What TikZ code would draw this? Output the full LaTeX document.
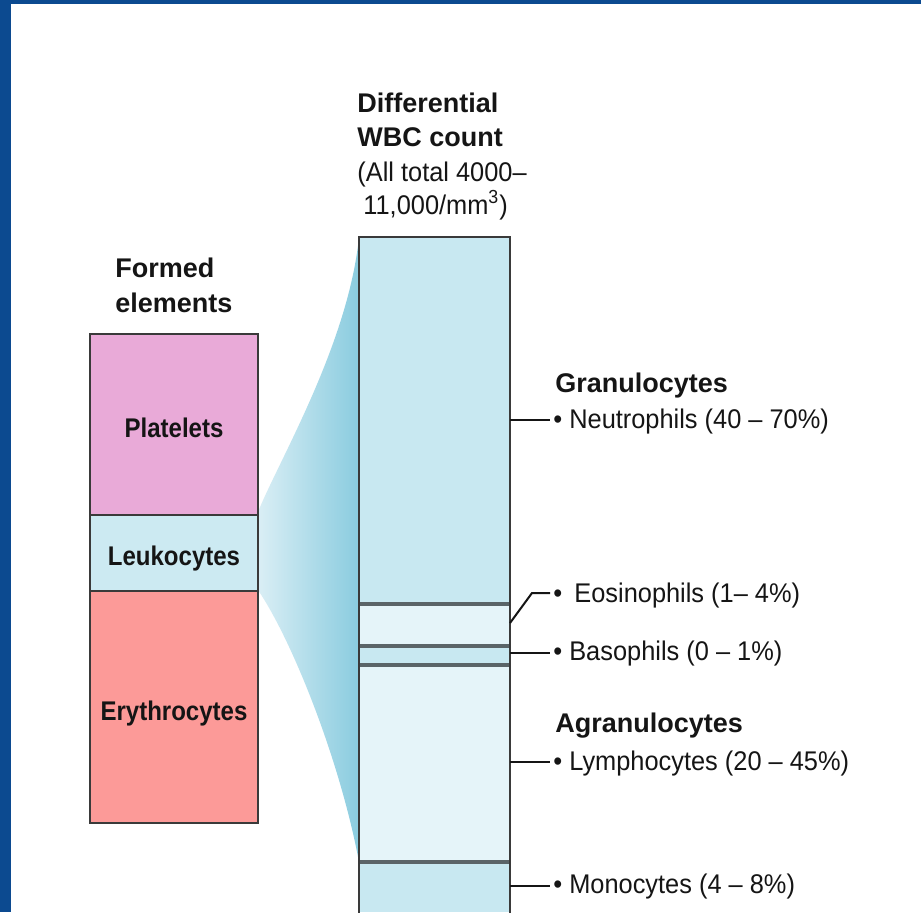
\documentclass[tikz,border=0pt]{standalone}
\usepackage{fontspec}
\setmainfont{Liberation Sans}
\newfontfamily\condb[FakeStretch=0.89]{Liberation Sans}
\newfontfamily\condr[FakeStretch=0.94]{Liberation Sans}
\definecolor{frameblue}{HTML}{0C4A90}
\definecolor{plt}{HTML}{E9AAD8}
\definecolor{leu}{HTML}{CCEAF2}
\definecolor{ery}{HTML}{FC9A98}
\definecolor{colA}{HTML}{C8E8F1}
\definecolor{colB}{HTML}{E5F4F9}
\definecolor{fanL}{HTML}{DAEEF5}
\definecolor{fanM}{HTML}{B2DDEA}
\definecolor{fanR}{HTML}{8ACCDF}
\definecolor{edge}{HTML}{3A3A3A}
\definecolor{sep}{HTML}{5A6468}
\definecolor{txt}{HTML}{151515}
\begin{document}
\begin{tikzpicture}[x=0.5pt,y=-0.5pt,
  hdb/.style={font=\bfseries\fontsize{13.5}{16}\selectfont, text=txt, inner sep=0, anchor=base west},
  hdr/.style={font=\condr\fontsize{13.5}{16}\selectfont, text=txt, inner sep=0, anchor=base west},
  boxlbl/.style={font=\condb\bfseries\fontsize{13.5}{16}\selectfont, text=txt, inner sep=0, anchor=base},
  item/.style={font=\condr\fontsize{13.5}{16}\selectfont, text=txt, inner ysep=0, inner xsep=1.5pt, anchor=base west},
  boxedge/.style={draw=edge, line width=1pt},
  sepline/.style={draw=sep, line width=1.6pt},
  conn/.style={draw=txt, line width=1pt}]
% background frame
\fill[frameblue] (0,0) rectangle (921,912);
\fill[white] (11,4) rectangle (921,912);
\useasboundingbox (0,0) rectangle (921,912);
% fan
\shade[left color=fanL, middle color=fanM, right color=fanR]
  (258,512) .. controls (278,462) and (348,345) .. (359,237)
  -- (359,862) .. controls (340,760) and (292,640) .. (258,590) -- cycle;
% left stacked box
\fill[plt] (90,334) rectangle (258,515);
\fill[leu] (90,515) rectangle (258,591);
\fill[ery] (90,591) rectangle (258,823);
\draw[boxedge] (90,334) rectangle (258,823);
\draw[boxedge] (90,515) -- (258,515);
\draw[boxedge] (90,591) -- (258,591);
\node[boxlbl] (platelets) at (174,437) {Platelets};
\node[boxlbl] (leukocytes) at (174,565) {Leukocytes};
\node[boxlbl] (erythrocytes) at (174,720) {Erythrocytes};
\node[hdb] (formed) at (115,277) {Formed};
\node[hdb] (elements) at (115,312) {elements};
% WBC column
\fill[colA] (359,237) rectangle (510,604);
\fill[colB] (359,604) rectangle (510,646);
\fill[colA] (359,646) rectangle (510,665);
\fill[colB] (359,665) rectangle (510,862);
\fill[colA] (359,862) rectangle (510,912);
\draw[sepline] (359,604) -- (510,604);
\draw[sepline] (359,646) -- (510,646);
\draw[sepline] (359,665) -- (510,665);
\draw[sepline] (359,862) -- (510,862);
\draw[boxedge] (359,913) -- (359,237) -- (510,237) -- (510,913);
% header
\node[hdb] (h1) at (357,112) {Differential};
\node[hdb] (h2) at (357,146) {WBC count};
\node[hdr] (h3) at (357,181) {(All total 4000–};
\node[hdr] (h4) at (363,214) {11,000/mm\textsuperscript{3})};
% right labels
\node[hdb] (gran) at (555,392) {Granulocytes};
\node[item] (neut) at (550,428) {• Neutrophils (40 – 70\%)};
\node[item] (eos) at (550,602) {•\hspace{0.45em}Eosinophils (1– 4\%)};
\node[item] (baso) at (550,660) {• Basophils (0 – 1\%)};
\node[hdb] (agran) at (555,732) {Agranulocytes};
\node[item] (lymph) at (550,770) {• Lymphocytes (20 – 45\%)};
\node[item] (mono) at (550,893) {• Monocytes (4 – 8\%)};
% connectors
\coordinate (cN) at (510,420);
\coordinate (cE) at (510,623);
\coordinate (cEk) at (532,593);
\coordinate (cB) at (510,653);
\coordinate (cL) at (510,762);
\coordinate (cM) at (510,886);
\draw[conn] (cN) -- (cN -| neut.west);
\draw[conn] (cE) -- (cEk) -- (cEk -| eos.west);
\draw[conn] (cB) -- (cB -| baso.west);
\draw[conn] (cL) -- (cL -| lymph.west);
\draw[conn] (cM) -- (cM -| mono.west);
\end{tikzpicture}
\end{document}
